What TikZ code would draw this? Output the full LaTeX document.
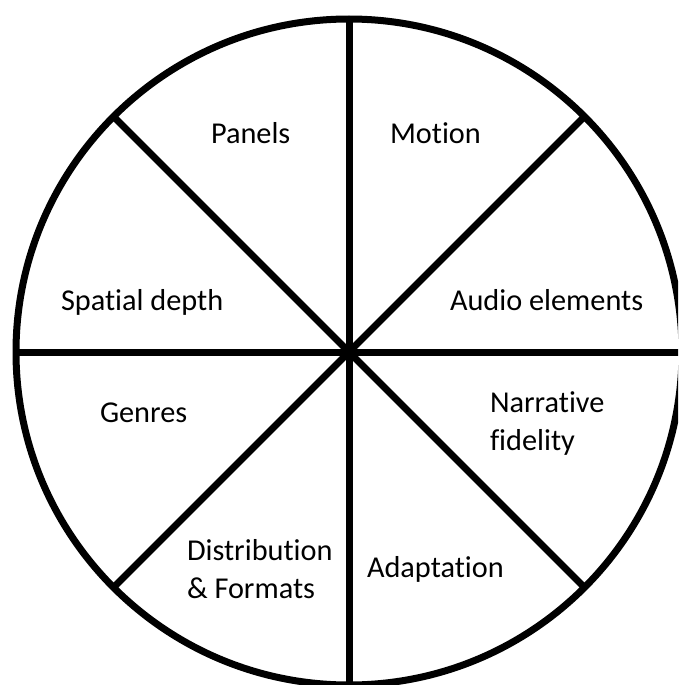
\documentclass[tikz,border=0pt]{standalone}
\usepackage{fontspec}
\setmainfont[Ligatures={NoCommon,NoContextual}]{Carlito}
\begin{document}
\begin{tikzpicture}[x=1pt,y=-1pt,
  spoke/.style={line width=7pt},
  lbl/.style={inner sep=0pt, outer sep=0pt, anchor=base west, align=left,
    font=\fontsize{30.3}{38}\selectfont}]
\useasboundingbox (0,0) rectangle (678,685);
\clip (0,0) rectangle (678,685);
\fill[white] (0,0) rectangle (678,685);
\coordinate (c) at (349,352);
\draw[spoke] (c) circle[radius=333];
\foreach \a/\n in {0/e,45/se,90/s,135/sw,180/w,225/nw,270/n,315/ne}{
  \coordinate (p\n) at ([shift={(\a:333)}]c);
}
\foreach \n in {e,ne,n,nw,w,sw,s,se}{
  \draw[spoke] (c) -- (p\n);
}
\node[lbl] (panels) at (211,143) {Panels};
\node[lbl] (motion) at (390,143) {Motion};
\node[lbl] (spatial) at (61,310) {Spatial depth};
\node[lbl] (audio) at (450,310) {Audio elements};
\node[lbl] (narr) at (490,450) {Narrative\\fidelity};
\node[lbl] (genres) at (100,422) {Genres};
\node[lbl] (distr) at (187,598) {Distribution\\\& Formats};
\node[lbl] (adapt) at (367,577) {Adaptation};
\fill (c) circle[radius=5];
\end{tikzpicture}
\end{document}
